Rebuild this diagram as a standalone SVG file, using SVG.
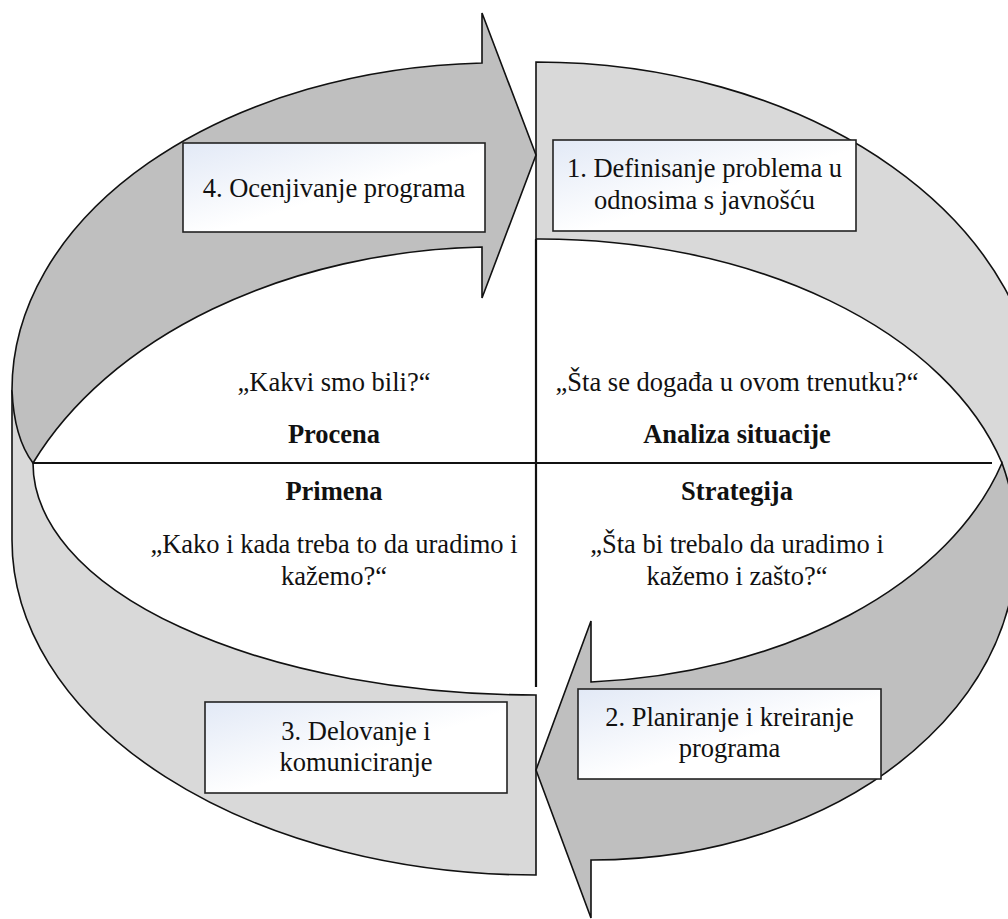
<svg xmlns="http://www.w3.org/2000/svg" width="1008" height="919" viewBox="0 0 1008 919">
  <defs>
    <linearGradient id="boxFill" x1="0" y1="0" x2="1" y2="1">
      <stop offset="0" stop-color="#e2e9f6"/>
      <stop offset="0.55" stop-color="#ffffff"/>
      <stop offset="1" stop-color="#ffffff"/>
    </linearGradient>
    <style>
      .band { fill: #d9d9d9; }
      .arrow { fill: #bfbfbf; stroke: #111; stroke-width: 1.6; stroke-linejoin: miter; }
      .edge { fill: none; stroke: #111; stroke-width: 1.6; }
      .axis { fill: none; stroke: #111; stroke-width: 2.2; }
      .box { fill: url(#boxFill); stroke: #222; stroke-width: 1.6; }
      text { font-size: 26.5px; fill: #111; text-anchor: middle; }
      .head { font-weight: bold; }
    </style>
  </defs>

  <rect width="1008" height="919" fill="#ffffff"/>

  <!-- ring segments and curved arrows -->
  <g id="connectors">
    <!-- quadrant I band -->
    <g id="band-1">
      <path class="band" d="M536,62 A504,358 0 0 1 1040,420 L1040,520 L1010,520 L1002,463 A478,302 0 0 0 536,239 Z"/>
      <path class="edge" d="M536,239 L536,62 A504,358 0 0 1 1040,420"/>
      <path class="edge" d="M536,239 A478,302 0 0 1 1002,463"/>
    </g>
    <!-- quadrant III band -->
    <path id="band-3" class="band" stroke="#111" stroke-width="1.6" d="M12,390 L12,540 A524,335 0 0 0 536,875 L536,695 A503,232 0 0 1 33,463 Z"/>
    <!-- arrow 4 -> 1 -->
    <path id="arrow-4" class="arrow" d="M482,63 L482,13 L536,155 L482,298 L482,247 A506,355 0 0 0 33,463 Q14,438 12,390 A488,327 0 0 1 482,63 Z"/>
    <!-- arrow 2 -> 3 -->
    <path id="arrow-2" class="arrow" d="M1002,463 A460,302 0 0 1 591,682 L591,621 L536,770 L591,918 L591,860 A424,315 0 0 0 1002,463 Z"/>
  </g>

  <!-- quadrant dividers -->
  <g id="axes">
    <line class="axis" x1="33" y1="463" x2="992" y2="463"/>
    <line class="axis" x1="536" y1="239" x2="536" y2="687"/>
  </g>

  <g font-family="'Liberation Serif', Tinos, 'Times New Roman', 'Noto Serif', 'DejaVu Serif', serif">
  <!-- quadrant texts -->
  <g id="q-procena">
    <text x="334" y="391">„Kakvi smo bili?“</text>
    <text class="head" x="334" y="443">Procena</text>
  </g>
  <g id="q-analiza">
    <text x="737" y="391">„Šta se događa u ovom trenutku?“</text>
    <text class="head" x="737" y="443">Analiza situacije</text>
  </g>
  <g id="q-primena">
    <text class="head" x="334" y="500">Primena</text>
    <text x="334" y="553">„Kako i kada treba to da uradimo i</text>
    <text x="334" y="585">kažemo?“</text>
  </g>
  <g id="q-strategija">
    <text class="head" x="737" y="500">Strategija</text>
    <text x="737" y="553">„Šta bi trebalo da uradimo i</text>
    <text x="737" y="585">kažemo i zašto?“</text>
  </g>

  <!-- step boxes -->
  <g id="step-4">
    <rect class="box" x="183" y="143" width="302" height="89"/>
    <text x="334" y="197">4. Ocenjivanje programa</text>
  </g>
  <g id="step-1">
    <rect class="box" x="553" y="140" width="303" height="91"/>
    <text x="704.5" y="177">1. Definisanje problema u</text>
    <text x="704.5" y="209">odnosima s javnošću</text>
  </g>
  <g id="step-2">
    <rect class="box" x="578" y="689" width="303" height="90"/>
    <text x="729.5" y="726">2. Planiranje i kreiranje</text>
    <text x="729.5" y="757">programa</text>
  </g>
  <g id="step-3">
    <rect class="box" x="205" y="702" width="302" height="91"/>
    <text x="356" y="740">3. Delovanje i</text>
    <text x="356" y="771">komuniciranje</text>
  </g>
  </g>
</svg>
